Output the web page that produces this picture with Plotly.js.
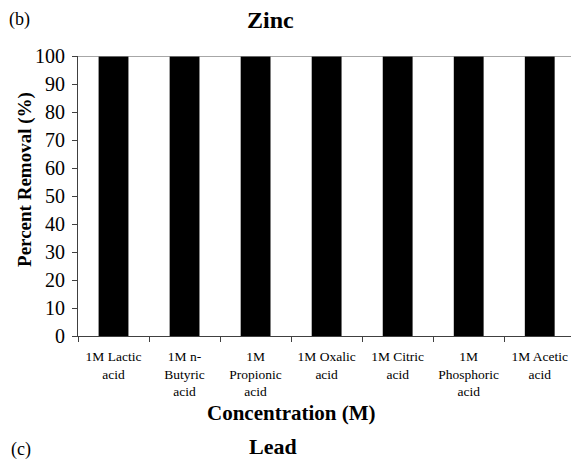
<!DOCTYPE html>
<html>
<head>
<meta charset="utf-8">
<script src="https://cdn.plot.ly/plotly-3.0.1.min.js"></script>
<style>html,body{margin:0;padding:0;background:#fff;}#chart{width:571px;height:459px;}</style>
</head>
<body>
<div id="chart"></div>
<script>
const categories = [
  "1M Lactic<br>acid",
  "1M n-<br>Butyric<br>acid",
  "1M<br>Propionic<br>acid",
  "1M Oxalic<br>acid",
  "1M Citric<br>acid",
  "1M<br>Phosphoric<br>acid",
  "1M Acetic<br>acid"
];
const removal = [100, 100, 100, 100, 100, 100, 100];
const yTicks = [0, 10, 20, 30, 40, 50, 60, 70, 80, 90, 100];

const serif = "Liberation Serif";

const trace = {
  type: "bar",
  x: categories,
  y: removal,
  marker: {color: "#000000", line: {width: 0}},
  hoverinfo: "skip"
};

const layout = {
  width: 571,
  height: 459,
  margin: {l: 78, r: 0, t: 56, b: 123},
  paper_bgcolor: "#ffffff",
  plot_bgcolor: "#ffffff",
  showlegend: false,
  bargap: 0.58,
  font: {family: serif, color: "#000000"},
  xaxis: {
    type: "category",
    range: [-0.5, 6.44],
    tickson: "boundaries",
    ticks: "outside",
    ticklen: 5,
    tickcolor: "#404040",
    showline: true,
    linecolor: "#404040",
    linewidth: 1,
    showgrid: false,
    zeroline: false,
    tickangle: 0,
    ticklabelstandoff: 8,
    tickfont: {family: serif, size: 13.5, color: "#000000"},
    fixedrange: true
  },
  yaxis: {
    range: [0, 100],
    tickvals: yTicks,
    ticktext: yTicks.map(String),
    ticks: "outside",
    ticklen: 5,
    tickcolor: "#404040",
    showline: true,
    linecolor: "#404040",
    linewidth: 1,
    showgrid: false,
    zeroline: false,
    ticklabelstandoff: 3,
    tickfont: {family: serif, size: 20, color: "#000000"},
    fixedrange: true
  },
  shapes: [
    {type: "line", xref: "paper", yref: "y", x0: 0, x1: 1, y0: 100, y1: 100,
     line: {color: "#8a8a8a", width: 1.5}, layer: "above"}
  ],
  annotations: [
    {text: "(b)", xref: "paper", yref: "paper", x: -0.145, y: 1.13, xanchor: "left", yanchor: "middle",
     showarrow: false, font: {family: serif, size: 18, color: "#000"}},
    {text: "<b>Zinc</b>", xref: "paper", yref: "paper", x: 0.391, y: 1.13, xanchor: "center", yanchor: "middle",
     showarrow: false, font: {family: serif, size: 24, color: "#000"}},
    {text: "<b>Percent Removal (%)</b>", xref: "paper", yref: "paper", x: -0.108, y: 0.56, xanchor: "center", yanchor: "middle",
     textangle: -90, showarrow: false, font: {family: serif, size: 19, color: "#000"}},
    {text: "<b>Concentration (M)</b>", xref: "paper", yref: "paper", x: 0.434, y: -0.275, xanchor: "center", yanchor: "middle",
     showarrow: false, font: {family: serif, size: 21, color: "#000"}},
    {text: "(c)", xref: "paper", yref: "paper", x: -0.14, y: -0.405, xanchor: "left", yanchor: "middle",
     showarrow: false, font: {family: serif, size: 18, color: "#000"}},
    {text: "<b>Lead</b>", xref: "paper", yref: "paper", x: 0.396, y: -0.395, xanchor: "center", yanchor: "middle",
     showarrow: false, font: {family: serif, size: 22, color: "#000"}}
  ]
};

Plotly.newPlot("chart", [trace], layout, {displayModeBar: false, staticPlot: true});
</script>
</body>
</html>
